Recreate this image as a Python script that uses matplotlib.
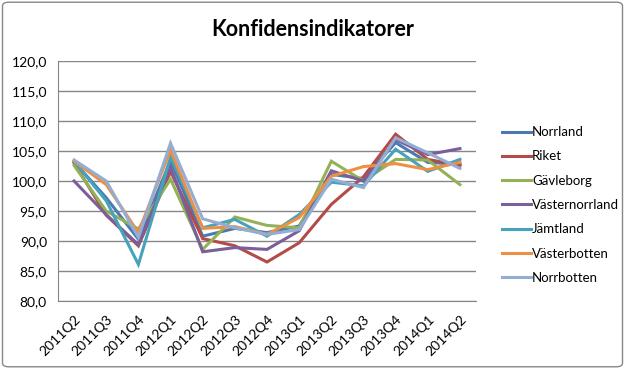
import matplotlib.pyplot as plt
from matplotlib.patches import FancyBboxPatch

quarters = ['2011Q2', '2011Q3', '2011Q4', '2012Q1', '2012Q2', '2012Q3', '2012Q4',
            '2013Q1', '2013Q2', '2013Q3', '2013Q4', '2014Q1', '2014Q2']

norrland       = [103.2, 97.2, 90.3, 103.4, 90.8, 92.1, 91.4, 92.5, 101.1, 100.4, 106.4, 103.1, 102.8]
riket          = [103.0, 94.3, 89.2, 101.6, 90.4, 89.2, 86.5, 89.7, 96.1, 100.7, 107.8, 103.6, 102.6]
gavleborg      = [102.6, 95.0, 92.0, 100.3, 88.6, 94.0, 92.6, 92.2, 103.3, 100.0, 103.6, 103.5, 99.4]
vasternorrland = [100.0, 94.4, 89.4, 102.3, 88.2, 88.9, 88.6, 91.7, 101.7, 100.0, 106.9, 104.4, 105.4]
jamtland       = [103.3, 96.7, 86.1, 104.0, 92.2, 93.6, 90.8, 94.4, 99.8, 99.2, 105.3, 101.6, 103.6]
vasterbotten   = [103.3, 99.4, 91.4, 105.2, 92.1, 92.4, 91.1, 93.9, 100.8, 102.4, 102.9, 101.9, 103.1]
norrbotten     = [103.5, 100.0, 90.6, 106.3, 93.7, 92.2, 91.1, 91.9, 100.3, 98.9, 107.2, 104.7, 102.1]

series = [('Norrland', norrland, '#4A7AB0'),
          ('Riket', riket, '#B44B48'),
          ('Gävleborg', gavleborg, '#93B257'),
          ('Västernorrland', vasternorrland, '#7A5F9A'),
          ('Jämtland', jamtland, '#47A3BB'),
          ('Västerbotten', vasterbotten, '#EE8F44'),
          ('Norrbotten', norrbotten, '#93AED2')]

yticks = [80, 85, 90, 95, 100, 105, 110, 115, 120]

plt.rcParams['font.family'] = ['Lato', 'DejaVu Sans']

fig = plt.figure(figsize=(6.25, 3.69), dpi=100)
fig.patches.append(FancyBboxPatch((0.004, 0.006), 0.992, 0.988, boxstyle='round,pad=0,rounding_size=0.01',
                                  transform=fig.transFigure, fill=False, edgecolor='#888888', lw=1))
ax = fig.add_axes([58/625, 1-301/369, 418/625, 240/369])

x = list(range(len(quarters)))
for name, vals, col in series:
    ax.plot(x, vals, color=col, lw=2.2, label=name, solid_joinstyle='miter')

ax.set_xlim(-0.5, len(quarters)-0.5)
ax.set_ylim(80, 120)
ax.set_yticks(yticks)
ax.set_yticklabels([f'{v:.1f}'.replace('.', ',') for v in yticks], fontsize=10)
ax.set_xticks(x)
ax.set_xticklabels(quarters, rotation=45, ha='right', rotation_mode='anchor', fontsize=10)
ax.grid(axis='y', color='#868686', lw=1)
ax.set_axisbelow(True)
for s in ['top', 'right']:
    ax.spines[s].set_visible(False)
for s in ['left', 'bottom']:
    ax.spines[s].set_color('#868686')
ax.tick_params(axis='y', length=0, pad=8)
ax.tick_params(axis='x', length=0, pad=9)

fig.text(0.5, 1-30/369, 'Konfidensindikatorer', ha='center', va='center', fontsize=15.5, fontweight='bold')

ax.legend(loc='center left', bbox_to_anchor=(432/418, 0.40), frameon=False,
          fontsize=9.5, handlelength=2.2, handletextpad=0.1, labelspacing=0.93)

fig.savefig('out.png', dpi=100)
